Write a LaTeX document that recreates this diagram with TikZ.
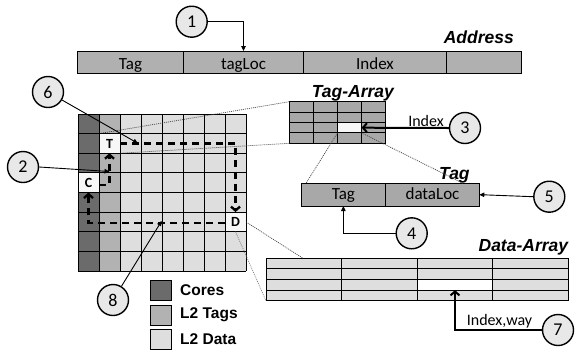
\documentclass[tikz,border=0pt]{standalone}
\usepackage{fontspec}
\setmainfont{Carlito}
\newfontfamily\hv{Liberation Sans}
\usetikzlibrary{arrows.meta,calc}

\definecolor{corefill}{gray}{0.42}
\definecolor{tagfill}{gray}{0.70}
\definecolor{datafill}{gray}{0.87}
\definecolor{circfill}{gray}{0.91}
\definecolor{addrfill}{gray}{0.69}
\definecolor{tafill}{gray}{0.66}
\definecolor{hitfill}{gray}{0.97}

\begin{document}
\begin{tikzpicture}[x=1pt,y=-1pt,
  box/.style={draw=black, line width=1pt, inner sep=0pt, outer sep=0pt, anchor=north west},
  field/.style={box, fill=addrfill, minimum height=22.3pt, text height=15pt, text depth=0pt,
                font=\fontsize{17}{20}\selectfont},
  tfield/.style={box, fill=tafill, minimum height=22.7pt, text height=12pt, text depth=2.5pt,
                font=\fontsize{17}{20}\selectfont},
  gridline/.style={line width=1pt, black},
  cellmark/.style={box, fill=hitfill, font=\fontsize{14}{14}\selectfont\bfseries, text height=10pt, text depth=0pt},
  num/.style={circle, draw=black, line width=1.4pt, fill=circfill, minimum size=31pt, inner sep=0pt,
              font=\fontsize{18}{18}\selectfont},
  title/.style={font=\hv\fontsize{17.5}{20}\selectfont\bfseries\itshape, inner sep=0pt},
  legendtext/.style={font=\hv\fontsize{15.5}{18}\selectfont\bfseries, inner sep=0pt, anchor=west},
  plain/.style={font=\fontsize{16}{18}\selectfont, inner sep=0pt},
  thinarrow/.style={line width=0.9pt, -{Triangle[length=5pt,width=4.5pt]}},
  thickarrow/.style={line width=2pt, -{Straight Barb[length=4pt,width=9pt]}},
  route/.style={line width=2.3pt, dash pattern=on 7pt off 5pt, -{Straight Barb[length=4pt,width=9pt]}},
  zoomline/.style={line width=0.7pt, dash pattern=on 1pt off 1pt, black!75},
]
\useasboundingbox (0,0) rectangle (578,349);

% ---------- address fields ----------
\node[field, minimum width=106.4pt] (aTag)  at (77.3,51)  {Tag};
\node[field, minimum width=119.6pt] (aLoc)  at (183.7,51) {tagLoc};
\node[field, minimum width=143.4pt] (aIdx)  at (303.3,51) {Index};
\node[field, minimum width=74.6pt]  (aRest) at (446.7,51) {};
\node[title, anchor=base east] (addrT) at (514,43) {Address};

% ---------- tiled chip: cores, L2 tags, L2 data ----------
\fill[corefill] (78,114) rectangle (99,271);
\fill[tagfill]  (99,114) rectangle (120,271);
\fill[datafill] (120,114) rectangle (246,271);
\foreach \i in {0,...,8} \draw[gridline] ({78+21*\i},114) -- ({78+21*\i},271);
\foreach \j in {0,...,8} \draw[gridline] (78,{114+19.625*\j}) -- (246,{114+19.625*\j});

% ---------- tag array ----------
\node[title, anchor=base west] (taT) at (311.7,97) {Tag-Array};
\node[box, fill=tafill, minimum width=96.4pt, minimum height=41.6pt] (tagarr) at (289.3,101.7) {};
\foreach \i in {1,2,3} \draw[gridline] ({289.3+24.1*\i},101.7) -- ({289.3+24.1*\i},143.3);
\foreach \j in {1,2,3} \draw[gridline] (289.3,{101.7+10.4*\j}) -- (385.7,{101.7+10.4*\j});
\node[box, fill=hitfill, minimum width=24.1pt, minimum height=10.4pt] (hit) at (337.5,122.5) {};

% zoom lines from the tag tile to the tag array
\draw[zoomline] (tagarr.north west) -- (99,133.6);
\draw[zoomline] (tagarr.south west) -- (120,153.25);

% highlighted tiles
\node[cellmark, minimum width=21pt, minimum height=19.6pt] (T) at (99,133.6)  {T};
\node[cellmark, minimum width=21pt, minimum height=19.6pt] (C) at (78,172.9)  {C};
\node[cellmark, minimum width=21pt, minimum height=19.6pt] (D) at (225,212.1) {D};

% ---------- tag entry ----------
\node[title, anchor=base west] (tagT) at (439,179) {Tag};
\node[tfield, minimum width=84.7pt] (tTag) at (301,183.3)   {Tag};
\node[tfield, minimum width=93.6pt] (tLoc) at (385.7,183.3) {dataLoc};
\draw[zoomline] (hit.south west) -- (306,183.3);
\draw[zoomline] (hit.south east) -- (463,183.3);

% ---------- data array ----------
\node[title, anchor=base east] (daT) at (568.3,251.7) {Data-Array};
\node[box, fill=datafill, minimum width=302.3pt, minimum height=42.4pt] (datarr) at (266,258.3) {};
\foreach \i in {1,2,3} \draw[gridline] ({266+75.6*\i},258.3) -- ({266+75.6*\i},300.7);
\foreach \j in {1,2,3} \draw[gridline] (266,{258.3+10.6*\j}) -- (568.3,{258.3+10.6*\j});
\node[box, fill=white, minimum width=75.6pt, minimum height=10.6pt] (dhit) at (417.2,279.5) {};
\draw[zoomline] (D.east) -- (303,258.3);
\draw[zoomline, black!50] (D.south) -- (datarr.south west);

% ---------- routes between tiles ----------
\draw[route] ([yshift=-2pt]C.east) -| (T.south);
\draw[route] (T.east) -| (D.north);
\draw[route] ([yshift=-1pt]D.west) -| (C.south);

% ---------- legend ----------
\node[box, fill=corefill, minimum width=21pt, minimum height=20pt] (lgC) at (150.7,280) {};
\node[box, fill=tagfill,  minimum width=21pt, minimum height=20pt] (lgT) at (150.7,305) {};
\node[box, fill=datafill, minimum width=21pt, minimum height=20pt] (lgD) at (150.7,329.5) {};
\node[legendtext] at (180,290.5) {Cores};
\node[legendtext] at (180,315) {L2 Tags};
\node[legendtext] at (180,339.5) {L2 Data};

% ---------- numbered steps ----------
\node[num] (n1) at (191.7,21.7) {1};
\node[num] (n2) at (23,167)     {2};
\node[num] (n3) at (465,128)    {3};
\node[num] (n4) at (411.7,233.3){4};
\node[num] (n5) at (549.3,196.7){5};
\node[num] (n6) at (48,92)      {6};
\node[num] (n7) at (558,330)    {7};
\node[num] (n8) at (113,300)    {8};

\coordinate (p2) at (109.5,171.5);
\coordinate (p6) at (138,143.4);
\coordinate (p8) at (161.7,220.9);

\draw[thinarrow] (n1.east) -| (aLoc.north);
\draw[thinarrow] (n2.east) -- (p2);
\draw[thinarrow] (n6) -- (p6);
\draw[thinarrow] (n8) -- (p8);
\draw[thickarrow] (n3.west) -- (hit.east);
\node[plain, anchor=base] (idxL) at (426,126) {Index};
\draw[thinarrow] (n5.west) -- (tLoc.east);
\draw[thinarrow] (n4.west) -| (tTag.south);
\draw[thickarrow] (n7.west) -| (dhit.south);
\node[plain, anchor=base] (iwL) at (499.5,325) {Index,way};

\end{tikzpicture}
\end{document}
